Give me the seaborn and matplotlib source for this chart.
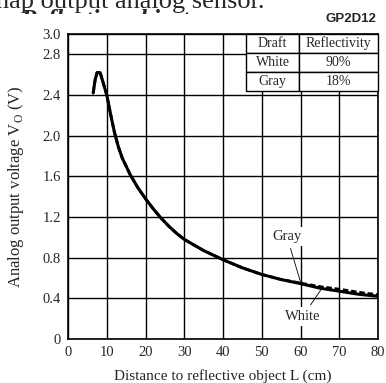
import matplotlib
matplotlib.use("Agg")
import matplotlib.pyplot as plt
import seaborn as sns
from matplotlib.transforms import Bbox, TransformedBbox

# data
dist = [6.5, 7.0, 7.5, 8.3, 9.0, 10, 11, 12, 13, 14, 16, 18, 20, 22, 24, 26, 28,
        30, 35, 40, 45, 50, 55, 60, 65, 70, 75, 80]
white = [2.42, 2.55, 2.62, 2.62, 2.53, 2.40, 2.21, 2.03, 1.89, 1.78, 1.62, 1.49,
         1.38, 1.28, 1.19, 1.11, 1.04, 0.98, 0.87, 0.78, 0.70, 0.635, 0.585, 0.545,
         0.50, 0.47, 0.44, 0.42]
gray = [2.42, 2.55, 2.62, 2.62, 2.53, 2.40, 2.21, 2.03, 1.89, 1.78, 1.62, 1.49,
        1.38, 1.28, 1.19, 1.11, 1.04, 0.98, 0.87, 0.78, 0.70, 0.635, 0.585, 0.55,
        0.515, 0.49, 0.46, 0.435]

table_cols = ["Draft", "Reflectivity"]
table_rows = [["White", "90%"], ["Gray", "18%"]]

x_ticks = [0, 10, 20, 30, 40, 50, 60, 70, 80]
y_ticks = [0, 0.4, 0.8, 1.2, 1.6, 2.0, 2.4, 2.8, 3.0]
y_labels = ["0", "0.4", "0.8", "1.2", "1.6", "2.0", "2.4", "2.8", "3.0"]

sns.set_style("white")
plt.rcParams["font.family"] = ["Liberation Serif", "DejaVu Serif"]
plt.rcParams["mathtext.fontset"] = "custom"
plt.rcParams["mathtext.rm"] = "Liberation Serif"

fig = plt.figure(figsize=(3.86, 3.83), dpi=100)
ax = fig.add_axes([68 / 386, 1 - 339 / 383, 310 / 386, 305 / 383])

# gray first (dashed), white solid on top
sns.lineplot(x=dist, y=gray, ax=ax, color="black", lw=2.0, linestyle=(0, (2, 1)), zorder=3)
sns.lineplot(x=dist, y=white, ax=ax, color="black", lw=2.2, zorder=4)

ax.set_xlim(0, 80)
ax.set_ylim(0, 3.0)
ax.set_xticks(x_ticks)
ax.set_yticks(y_ticks)
ax.set_yticklabels(y_labels)
ax.tick_params(axis="both", length=0, labelsize=10.5)
ax.tick_params(axis="y", pad=5)
ax.tick_params(axis="x", pad=5)
ax.grid(True, color="black", lw=1.0)
for s in ax.spines.values():
    s.set_color("black")
    s.set_linewidth(1.2)

ax.set_xlabel("Distance to reflective object L (cm)", fontsize=11, labelpad=7)
ax.set_ylabel(r"Analog output voltage V$_\mathrm{O}$ (V)", fontsize=12, labelpad=12)

# annotations
ax.annotate("Gray", xy=(60, 0.56), xytext=(56.5, 1.01), fontsize=10.5, ha="center", va="center",
            bbox=dict(boxstyle="square,pad=0.2", fc="white", ec="none"),
            arrowprops=dict(arrowstyle="-", color="black", lw=0.6, shrinkA=2, shrinkB=0), zorder=5)
ax.annotate("White", xy=(65.2, 0.48), xytext=(60.5, 0.22), fontsize=10.5, ha="center", va="center",
            bbox=dict(boxstyle="square,pad=0.2", fc="white", ec="none"),
            arrowprops=dict(arrowstyle="-", color="black", lw=0.6, shrinkA=2, shrinkB=0), zorder=5)

# legend table
tbl = ax.table(cellText=table_rows, colLabels=table_cols, cellLoc="center",
               colWidths=[0.405, 0.595], bbox=[0.574, 0.813, 0.426, 0.187])
tbl.auto_set_font_size(False)
tbl.set_fontsize(10)
tbl.set_zorder(6)
for cell in tbl.get_celld().values():
    cell.set_facecolor("white")
    cell.set_edgecolor("black")
    cell.set_linewidth(1.0)

fig.text(376 / 386, 1 - 19 / 383, "GP2D12", ha="right", va="center", fontsize=9.5,
         fontweight="bold", family=["Liberation Sans", "DejaVu Sans"])

# bits of the surrounding document text, clipped at the top
clip = TransformedBbox(Bbox([[0, 1 - 14 / 383], [1, 1]]), fig.transFigure)
t1 = fig.text(-0.01, 1 - 8 / 383, "nap output analog sensor.", ha="left", va="baseline",
              fontsize=19)
t2 = fig.text(20 / 386, 1 - 27 / 383, "Reflective object", ha="left", va="baseline",
              fontsize=18, fontweight="bold", fontstyle="italic")
t2.set_clip_box(clip)
t2.set_clip_on(True)

fig.savefig("out.png", dpi=100)
